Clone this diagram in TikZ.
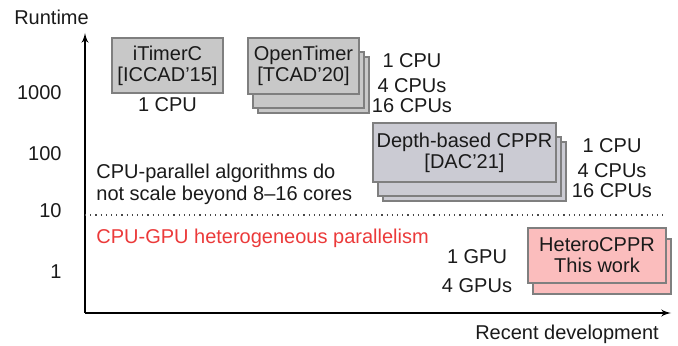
\documentclass[tikz,border=0pt]{standalone}
\usepackage{fontspec}
\setmainfont{Liberation Sans}
\usetikzlibrary{arrows}

\definecolor{edgegray}{HTML}{7F7F7F}
\definecolor{oldfill}{HTML}{C8C8C8}
\definecolor{dacfill}{HTML}{CBCBD3}
\definecolor{newfill}{HTML}{FBBDBD}
\definecolor{txtdark}{HTML}{1A1A1A}
\definecolor{gpured}{HTML}{EB3A3A}

\begin{document}
\begin{tikzpicture}[x=0.5pt,y=-0.5pt,font=\fontsize{10}{11}\selectfont,text=txtdark,
  paper/.style={shape=rectangle,draw=edgegray,line width=0.6pt,align=center,inner sep=0pt,font=\fontsize{10}{10.5}\selectfont},
  lbl/.style={inner sep=0pt}]
\useasboundingbox (0,0) rectangle (678,346);

% axes
\coordinate(orig) at (85,313);
\coordinate(ytop) at (85,33);
\coordinate(xend) at (671,313);
\draw[->,>=latex',line width=0.7pt] (orig)--(ytop);
\draw[->,>=latex',line width=0.7pt] (orig)--(xend);
\node(ylab)[lbl] at (51.5,17){Runtime};
\node(xlab)[lbl] at (567,334){Recent development};

% runtime scale
\node(t1000)[lbl,anchor=east] at (62,93){1000};
\node(t100)[lbl,anchor=east] at (62,154){100};
\node(t10)[lbl,anchor=east] at (62,211){10};
\node(t1)[lbl,anchor=east] at (62,272){1};

% threshold
\coordinate(thl) at (85,215);
\coordinate(thr) at (666,215);
\draw[dotted,line width=0.6pt,draw=txtdark!80] (thl)--(thr);
\node(cpunote)[lbl,anchor=west,align=left] at (96,184){CPU-parallel algorithms do\\not scale beyond 8–16 cores};
\node(gpunote)[lbl,anchor=west,text=gpured] at (96,238){CPU-GPU heterogeneous parallelism};

% iTimerC
\node(itc)[paper,fill=oldfill,minimum width=55.5pt,minimum height=27.5pt] at (167.5,65.5){iTimerC\\{[ICCAD’15]}};
\node(itc1)[lbl] at (167.5,105){1 CPU};

% OpenTimer
\foreach \dx/\dy in {10/19,5/14}{
  \node(ot\dx)[paper,fill=oldfill,minimum width=55.5pt,minimum height=28pt] at (303.5+\dx,66+\dy){};
}
\node(ot)[paper,fill=oldfill,minimum width=55.5pt,minimum height=28pt] at (303.5,66){OpenTimer\\{[TCAD’20]}};
\node(ot1)[lbl] at (412,61){1 CPU};
\node(ot4)[lbl] at (412,86){4 CPUs};
\node(ot16)[lbl] at (412,106){16 CPUs};

% Depth-based CPPR
\foreach \dx/\dy in {10/19,5/14}{
  \node(dac\dx)[paper,fill=dacfill,minimum width=91.5pt,minimum height=29.5pt] at (464.5+\dx,152.5+\dy){};
}
\node(dac)[paper,fill=dacfill,minimum width=91.5pt,minimum height=29.5pt] at (464.5,152.5){Depth-based CPPR\\{[DAC’21]}};
\node(dac1)[lbl] at (612,146){1 CPU};
\node(dac4)[lbl] at (612,171){4 CPUs};
\node(dac16)[lbl] at (612,191){16 CPUs};

% HeteroCPPR
\node(hc5)[paper,fill=newfill,minimum width=69pt,minimum height=27.5pt] at (602,266.5){};
\node(hc)[paper,fill=newfill,minimum width=69pt,minimum height=27.5pt] at (597,255.5){HeteroCPPR\\This work};
\node(hc1)[lbl] at (477,257){1 GPU};
\node(hc4)[lbl] at (477,286){4 GPUs};
\end{tikzpicture}
\end{document}
